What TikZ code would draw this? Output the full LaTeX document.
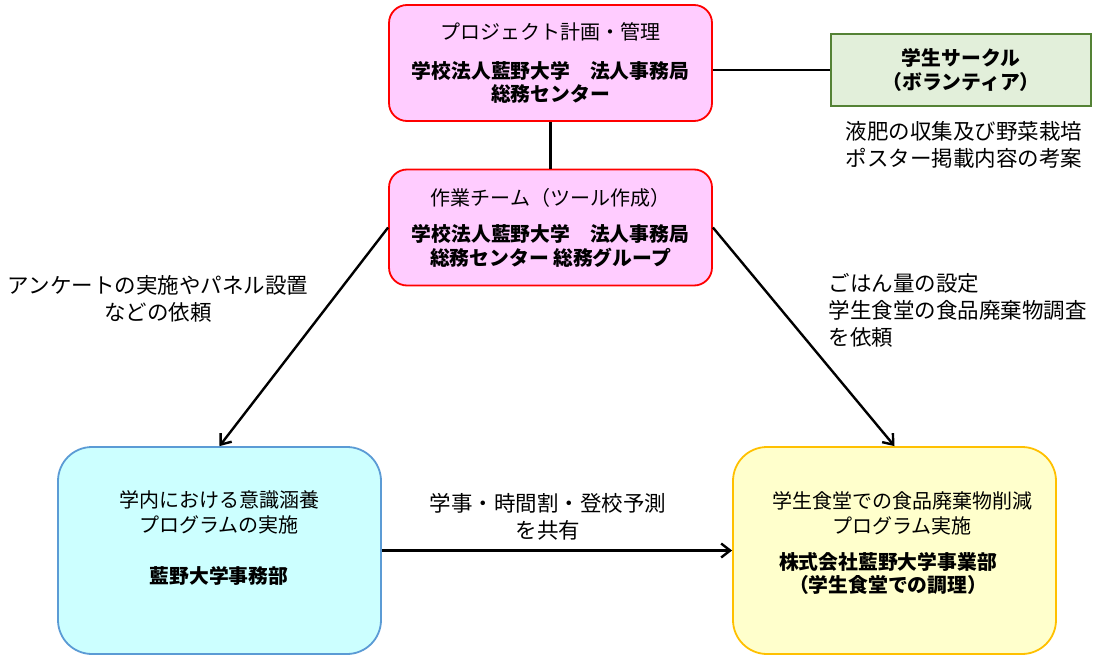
\documentclass[tikz,border=0pt]{standalone}
\usepackage{fontspec}
\setmainfont{Noto Sans CJK JP}
\usepackage{xcolor}
\usetikzlibrary{arrows.meta, positioning}
\definecolor{planpink}{HTML}{FFCCFF}
\definecolor{planred}{HTML}{FF0000}
\definecolor{circlegreen}{HTML}{E2EFDA}
\definecolor{circleline}{HTML}{548235}
\definecolor{officecyan}{HTML}{CCFFFF}
\definecolor{officeline}{HTML}{5B9BD5}
\definecolor{canteenyellow}{HTML}{FFFFCC}
\definecolor{canteenline}{HTML}{FFC000}

\begin{document}
\begin{tikzpicture}[
    x=1pt, y=-1pt,
    orgbox/.style={rectangle, rounded corners=18pt, draw=planred, fill=planpink,
        minimum width=323pt, minimum height=116pt, align=center, line width=1.8pt,
        inner sep=0pt, font=\fontsize{19.8}{23.5}\selectfont\bfseries},
    groupbox/.style={rectangle, draw=circleline, fill=circlegreen, line width=1.8pt,
        minimum width=260pt, minimum height=72pt, align=center, inner sep=0pt,
        font=\fontsize{19.8}{24}\selectfont\bfseries},
    progbox/.style={rectangle, rounded corners=34pt, line width=1.8pt,
        minimum width=323pt, minimum height=207pt, inner sep=0pt},
    head/.style={font=\fontsize{20}{25}\selectfont, align=center},
    body/.style={font=\fontsize{19.8}{23}\selectfont\bfseries, align=center},
    lbl/.style={font=\fontsize{21.5}{27}\selectfont},
    link/.style={line width=2.4pt, black},
    arr/.style={-{Straight Barb[length=9pt, width=14pt]}, line width=2.4pt, black}
]
    \useasboundingbox (0,0) rectangle (1114,661);

    % top: planning and working team
    \node[orgbox] (plan) at (550.5,63) {{\mdseries\fontsize{20}{22}\selectfont プロジェクト計画・管理}\\[15pt]
        学校法人藍野大学　法人事務局\\総務センター};
    \node[orgbox] (team) at (550.5,227.5) {{\mdseries\fontsize{20}{22}\selectfont 作業チーム（ツール作成）}\\[13pt]
        学校法人藍野大学　法人事務局\\総務センター 総務グループ};
    \node[groupbox] (circle) at (961,70) {学生サークル\\（ボランティア）};
    \node[lbl, align=left, anchor=west] (circlenote) at (842,145) {液肥の収集及び野菜栽培\\ポスター掲載内容の考案};

    % bottom: two programmes
    \node[progbox, draw=officeline, fill=officecyan] (office) at (219.5,550.5) {};
    \node[head] (officehead) at (219,512.5) {学内における意識涵養\\プログラムの実施};
    \node[body] (officebody) at (219,576) {藍野大学事務部};

    \node[progbox, draw=canteenline, fill=canteenyellow] (canteen) at (894.5,550.5) {};
    \node[head] (canteenhead) at (902,513) {学生食堂での食品廃棄物削減\\プログラム実施};
    \node[body] (canteenbody) at (888,573) {株式会社藍野大学事業部\\（学生食堂での調理）};

    % request labels
    \node[lbl, align=center] (surveynote) at (158,299) {アンケートの実施やパネル設置\\などの依頼};
    \node[lbl, align=left, anchor=west] (ricenote) at (825,310) {ごはん量の設定\\学生食堂の食品廃棄物調査\\を依頼};

    % connectors
    \draw[link] (plan) -- (team);
    \draw[link] (circle.west -| plan.east) -- (circle.west);
    \draw[arr] (team.west) -- (office.north);
    \draw[arr] (team.east) -- (canteen.north);
    \draw[arr] (office) -- node[lbl, align=center, above=6pt, xshift=-9pt] {学事・時間割・登校予測\\を共有} (canteen);
\end{tikzpicture}
\end{document}
